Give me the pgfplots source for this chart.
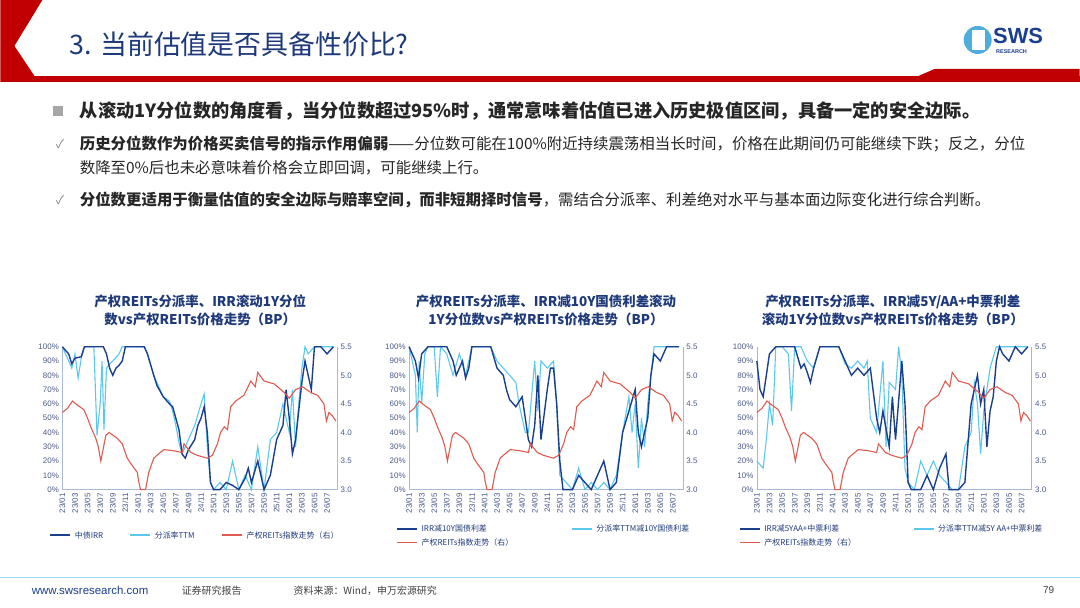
\documentclass[border=0pt]{standalone}
\usepackage{pgfplots}
\pgfplotsset{compat=1.18}
\usepackage{pgfplotstable}
\usepackage{fontspec}
\setmainfont{Noto Sans CJK SC}
\newfontfamily\lat{Liberation Sans}
\definecolor{navy}{HTML}{1B3F8F}
\definecolor{lblue}{HTML}{5BC8F0}
\definecolor{rline}{HTML}{E05A4F}
\definecolor{ttl}{HTML}{1F3A7A}
\definecolor{axc}{HTML}{A9B8D8}
\definecolor{tkc}{HTML}{4A5A8A}
\definecolor{sred}{HTML}{C00000}

\pgfplotstableread{
x y
0 4.35
0.8 4.42
1.6 4.55
2.5 4.47
3.4 4.4
4.0 4.25
4.5 4.1
5.3 3.9
5.7 3.75
6.1 3.5
6.9 3.95
7.4 4.0
8.7 3.9
9.5 3.8
10.3 3.55
10.9 3.45
11.9 3.3
12.1 3.15
12.4 3.0
13.2 3.0
13.7 3.3
14.5 3.55
15.0 3.6
16.1 3.7
17.7 3.68
19.0 3.65
19.3 3.8
20.4 3.65
21.4 3.6
23.0 3.55
23.8 3.6
24.6 3.8
25.1 4.0
25.7 4.1
26.2 4.05
26.7 4.45
27.5 4.55
28.8 4.65
29.9 4.9
30.6 4.8
31.0 5.05
32.0 4.9
33.6 4.85
35.2 4.7
36.0 4.6
37.0 4.75
38.1 4.8
39.4 4.7
40.5 4.65
41.5 4.5
41.9 4.2
42.3 4.35
42.8 4.3
43.4 4.2
}\red

\pgfplotstableread{
x y
0 100
1 95
1.5 88
2 92
3 93
3.5 100
6 100
6.5 100
7 95
7.5 85
8 80
8.5 85
9 87
9.5 90
10 100
13 100
13.5 95
14.5 80
15 73
16 65
17 60
17.5 58
18 50
18.5 42
19 25
19.5 22
20 28
21 35
21.5 45
22 50
22.5 58
23 40
23.5 5
24 0
25 0
26 5
27 3
28 0
29 8
29.5 15
30 5
31 20
32 0
33 10
34 35
35 45
35.5 70
36 50
36.5 25
37 35
37.5 55
38 75
38.5 90
39 80
39.5 70
40 100
41 100
42 95
43 100
}\aD
\pgfplotstableread{
x y
0 100
1 90
1.5 85
2 95
2.5 78
3 92
3.5 100
5 100
5.5 38
6 60
6.3 90
6.6 42
7 85
7.5 88
8 90
9 95
9.5 100
13 100
13.5 95
14.5 80
15 75
16 65
17 62
17.5 55
18 45
18.5 33
19 25
19.5 30
20 35
21 45
22 60
22.5 67
23 30
23.5 5
24 0
25 5
26 0
27 20
28 0
29 10
30 0
31 30
32 0
33 35
34 40
35 60
36 40
36.5 70
37 30
37.5 60
38 85
38.5 100
39 95
40 100
43 100
}\aL
\pgfplotstableread{
x y
0 100
1 90
1.5 78
2 95
3 100
6 100
7 90
7.5 80
8 85
8.5 90
9 78
9.5 85
10 100
13 100
14 85
15 80
15.5 70
16 63
17 58
18 65
18.5 50
19 35
19.5 30
20 45
20.5 80
21 35
22 70
22.5 85
23 85
23.5 60
24 20
24.5 0
26 0
27 10
28 5
29 0
30 10
31 20
32 0
33 5
34 40
35 55
36 70
36.5 40
37 30
37.5 40
38 50
38.5 80
39 95
40 90
41 100
43 100
}\bD
\pgfplotstableread{
x y
0 100
1 80
1.3 40
1.6 90
2 60
2.5 95
3 100
4 100
4.5 65
5 100
6 95
7 80
8 95
9 80
10 100
13 100
14 90
15 85
16 80
17 75
17.5 60
18 50
18.5 40
19 40
20 90
20.5 55
21 90
22 85
23 90
23.5 60
24 10
25 5
26 0
27 15
28 0
29 5
30 0
31 5
32 0
33 10
34 40
35 65
35.5 40
36 60
36.5 15
37 50
37.5 30
38 60
38.5 80
39 100
43 100
}\bL
\pgfplotstableread{
x y
0 90
0.5 70
1 65
1.5 80
2 95
3 100
6 100
7 85
7.5 88
8 82
8.5 75
9 85
10 100
13 100
14 90
15 80
16 85
17 80
18 85
19 50
19.5 40
20 55
21 30
21.5 65
22 35
23 90
23.5 60
24 5
24.5 0
26 0
27 10
28 0
29 15
30 25
30.5 0
32 0
33 5
34 60
35 80
35.5 60
36 70
36.5 30
37 55
37.5 65
38 90
38.5 100
39 95
40 90
41 100
42 95
43 100
}\cD
\pgfplotstableread{
x y
0 20
1 15
1.5 35
2 60
2.5 45
3 100
4 100
5 95
5.5 55
6 100
7 100
8 90
9 85
10 100
13 100
14 88
15 85
16 90
17 85
17.5 90
18 50
19 40
20 90
20.5 30
21 75
22 70
22.5 100
23 80
23.5 15
24 5
25 0
26 20
27 10
28 20
29 10
30 5
31 0
32 0
33 30
34 40
34.5 75
35 60
35.5 25
36 55
36.5 70
37 85
38 100
43 100
}\cL

\pgfplotsset{
 base/.style={scale only axis, height=143bp, xmin=0, xmax=43.6,
   axis line style={axc}, tick style={draw=none},
   ticklabel style={font=\lat\fontsize{8}{9}\selectfont, text=tkc},
   /pgf/number format/assume math mode=true, clip=false},
 lft/.style={base, axis y line*=left, axis x line*=bottom, ymin=0, ymax=100,
   ytick={0,10,...,100}, yticklabel={\pgfmathprintnumber{\tick}\%},
   xtick={0,2,...,42},
   xticklabels={23/01,23/03,23/05,23/07,23/09,23/11,24/01,24/03,24/05,24/07,24/09,24/11,25/01,25/03,25/05,25/07,25/09,25/11,26/01,26/03,26/05,26/07},
   xticklabel style={rotate=90, anchor=east}},
 rgt/.style={base, axis y line*=right, axis x line=none, ymin=3, ymax=5.5,
   ytick={3,3.5,...,5.5}, yticklabel style={/pgf/number format/.cd, fixed, fixed zerofill, precision=1}},
}

\begin{document}
\begin{tikzpicture}
\begin{scope}[x=1bp,y=-1bp,shift={(0,-608)}]
\fill[white] (0,0) rectangle (1080,608);
% header
\fill[sred] (0,0) -- (42,0) -- (14,46) -- (38,82) -- (0,82) -- cycle;
\fill[sred] (20,76) rectangle (1080,82);
\fill[sred] (905,82) -- (935,69) -- (1080,69) -- (1080,82) -- cycle;
\node[anchor=west, text=ttl, font=\fontsize{27}{29}\selectfont] at (66,44) {3. 当前估值是否具备性价比?};
\fill[lblue!80!navy] (978,40) circle (14);
\fill[white] (972,30) rectangle (985,50);
\node[anchor=west, text=navy, font=\lat\bfseries\fontsize{22}{22}\selectfont] at (990,36) {SWS};
\node[anchor=west, text=navy, font=\lat\bfseries\fontsize{5.5}{6}\selectfont] at (993,52) {RESEARCH};
% bullets
\fill[gray!70] (53,106) rectangle (63,116);
\node[anchor=west, text=black!85, font=\bfseries\fontsize{18.3}{20}\selectfont] at (76,111) {从滚动1Y分位数的角度看，当分位数超过95\%时，通常意味着估值已进入历史极值区间，具备一定的安全边际。};
\node[anchor=west, text=gray, font=\fontsize{12}{14}\selectfont] at (52,144) {✓};
\node[anchor=west, text=black!85, font=\fontsize{15.5}{17}\selectfont] at (76,144) {\textbf{历史分位数作为价格买卖信号的指示作用偏弱}——分位数可能在100\%附近持续震荡相当长时间，价格在此期间仍可能继续下跌；反之，分位};
\node[anchor=west, text=black!85, font=\fontsize{15.5}{17}\selectfont] at (76,168) {数降至0\%后也未必意味着价格会立即回调，可能继续上行。};
\node[anchor=west, text=gray, font=\fontsize{12}{14}\selectfont] at (52,200) {✓};
\node[anchor=west, text=black!85, font=\fontsize{15.5}{17}\selectfont] at (76,200) {\textbf{分位数更适用于衡量估值的安全边际与赔率空间，而非短期择时信号}，需结合分派率、利差绝对水平与基本面边际变化进行综合判断。};
% chart titles
\node[text=ttl, align=center, font=\bfseries\fontsize{13.5}{18}\selectfont] at (200,311) {产权REITs分派率、IRR滚动1Y分位\\数vs产权REITs价格走势（BP）};
\node[text=ttl, align=center, font=\bfseries\fontsize{13.5}{18}\selectfont] at (546,311) {产权REITs分派率、IRR减10Y国债利差滚动\\1Y分位数vs产权REITs价格走势（BP）};
\node[text=ttl, align=center, font=\bfseries\fontsize{13.5}{18}\selectfont] at (893,311) {产权REITs分派率、IRR减5Y/AA+中票利差\\滚动1Y分位数vs产权REITs价格走势（BP）};
% legends
\tikzset{lg/.style={anchor=west, text=ttl, font=\fontsize{8}{9}\selectfont}}
\draw[navy, line width=2pt] (50,535.5) -- (70,535.5); \node[lg] at (71,536) {中债IRR};
\draw[lblue, line width=2pt] (130,535.5) -- (150,535.5); \node[lg] at (151,536) {分派率TTM};
\draw[rline, line width=2pt] (222,535.5) -- (242,535.5); \node[lg] at (243,536) {产权REITs指数走势（右）};
\draw[navy, line width=1.8pt] (397,529) -- (417,529); \node[lg] at (418,529) {IRR减10Y国债利差};
\draw[lblue, line width=1.8pt] (572,529) -- (592,529); \node[lg] at (593,529) {分派率TTM减10Y国债利差};
\draw[rline, line width=1.8pt] (397,543) -- (417,543); \node[lg] at (418,543) {产权REITs指数走势（右）};
\draw[navy, line width=1.8pt] (740,529) -- (760,529); \node[lg] at (761,529) {IRR减5YAA+中票利差};
\draw[lblue, line width=1.8pt] (914,529) -- (934,529); \node[lg] at (935,529) {分派率TTM减5Y AA+中票利差};
\draw[rline, line width=1.8pt] (740,543) -- (760,543); \node[lg] at (761,543) {产权REITs指数走势（右）};
% footer
\draw[lblue!60, line width=0.8pt] (0,578) -- (1080,578);
\node[anchor=west, text=navy, font=\lat\fontsize{11.5}{12}\selectfont] at (28,591) {www.swsresearch.com};
\node[anchor=west, text=black!75, font=\fontsize{10}{11}\selectfont] at (178,591) {证券研究报告};
\node[anchor=west, text=black!75, font=\fontsize{10}{11}\selectfont] at (290,591) {资料来源：Wind，申万宏源研究};
\node[anchor=west, text=black!75, font=\lat\fontsize{10}{11}\selectfont] at (1040,591) {79};
\end{scope}
% chart 1
\begin{axis}[lft, width=275bp, at={(62bp,118bp)}, anchor=south west]
\addplot[lblue, line width=1.1pt] table {\aL};
\addplot[navy, line width=1.4pt] table {\aD};
\end{axis}
\begin{axis}[rgt, width=275bp, at={(62bp,118bp)}, anchor=south west]
\addplot[rline, line width=1.1pt] table {\red};
\end{axis}
% chart 2
\begin{axis}[lft, width=274bp, at={(409bp,118bp)}, anchor=south west]
\addplot[lblue, line width=1.1pt] table {\bL};
\addplot[navy, line width=1.4pt] table {\bD};
\end{axis}
\begin{axis}[rgt, width=274bp, at={(409bp,118bp)}, anchor=south west]
\addplot[rline, line width=1.1pt] table {\red};
\end{axis}
% chart 3
\begin{axis}[lft, width=275bp, at={(757bp,118bp)}, anchor=south west]
\addplot[lblue, line width=1.1pt] table {\cL};
\addplot[navy, line width=1.4pt] table {\cD};
\end{axis}
\begin{axis}[rgt, width=275bp, at={(757bp,118bp)}, anchor=south west]
\addplot[rline, line width=1.1pt] table {\red};
\end{axis}
\end{tikzpicture}
\end{document}
